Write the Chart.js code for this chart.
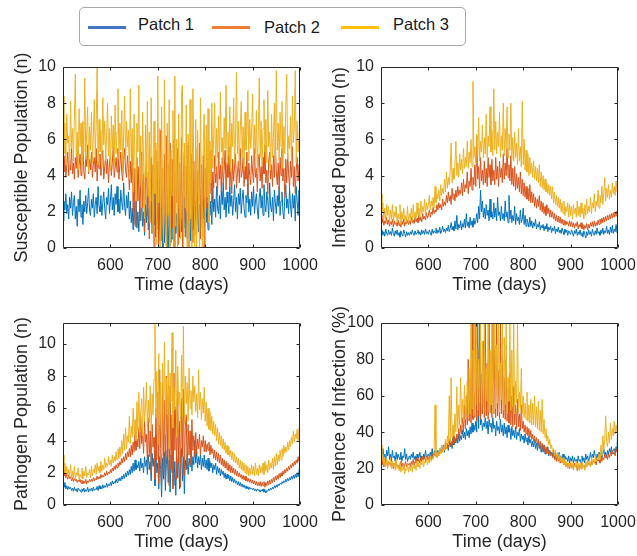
<!DOCTYPE html>
<html>
<head>
<meta charset="utf-8">
<script src="https://cdn.jsdelivr.net/npm/chart.js@4.4.1/dist/chart.umd.min.js"></script>
<style>
  html, body { margin: 0; padding: 0; background: #fff; overflow: hidden; }
  body { width: 637px; height: 556px; position: relative; font-family: "Liberation Sans", Arial, Helvetica, sans-serif; }
  .panel { position: absolute; }
  .legend {
    position: absolute; left: 79px; top: 7px; width: 385px; height: 37px;
    border: 1.5px solid #a8a8a8; border-radius: 5px; background: #fff;
  }
  .legend .swatch { position: absolute; top: 18px; width: 38px; height: 3px; }
  .legend .label { position: absolute; top: 8px; font-size: 16.5px; color: #1a1a1a; white-space: nowrap; }
</style>
</head>
<body>

<div class="legend">
  <div class="swatch" style="left:8px;background:#4472c4"></div>
  <div class="label" style="left:58px;top:7px">Patch 1</div>
  <div class="swatch" style="left:132px;background:#ed7d31"></div>
  <div class="label" style="left:184px;top:10px">Patch 2</div>
  <div class="swatch" style="left:261px;background:#ffc000"></div>
  <div class="label" style="left:313px;top:7px">Patch 3</div>
</div>

<div class="panel" style="left:0;top:50px"><canvas id="susceptible" width="318" height="250"></canvas></div>
<div class="panel" style="left:318px;top:50px"><canvas id="infected" width="318" height="250"></canvas></div>
<div class="panel" style="left:0;top:306px"><canvas id="pathogen" width="318" height="251"></canvas></div>
<div class="panel" style="left:318px;top:306px"><canvas id="prevalence" width="318" height="251"></canvas></div>

<script>
// sampled every 2 days
const days = [
  500, 502, 504, 506, 508, 510, 512, 514, 516, 518,
  520, 522, 524, 526, 528, 530, 532, 534, 536, 538,
  540, 542, 544, 546, 548, 550, 552, 554, 556, 558,
  560, 562, 564, 566, 568, 570, 572, 574, 576, 578,
  580, 582, 584, 586, 588, 590, 592, 594, 596, 598,
  600, 602, 604, 606, 608, 610, 612, 614, 616, 618,
  620, 622, 624, 626, 628, 630, 632, 634, 636, 638,
  640, 642, 644, 646, 648, 650, 652, 654, 656, 658,
  660, 662, 664, 666, 668, 670, 672, 674, 676, 678,
  680, 682, 684, 686, 688, 690, 692, 694, 696, 698,
  700, 702, 704, 706, 708, 710, 712, 714, 716, 718,
  720, 722, 724, 726, 728, 730, 732, 734, 736, 738,
  740, 742, 744, 746, 748, 750, 752, 754, 756, 758,
  760, 762, 764, 766, 768, 770, 772, 774, 776, 778,
  780, 782, 784, 786, 788, 790, 792, 794, 796, 798,
  800, 802, 804, 806, 808, 810, 812, 814, 816, 818,
  820, 822, 824, 826, 828, 830, 832, 834, 836, 838,
  840, 842, 844, 846, 848, 850, 852, 854, 856, 858,
  860, 862, 864, 866, 868, 870, 872, 874, 876, 878,
  880, 882, 884, 886, 888, 890, 892, 894, 896, 898,
  900, 902, 904, 906, 908, 910, 912, 914, 916, 918,
  920, 922, 924, 926, 928, 930, 932, 934, 936, 938,
  940, 942, 944, 946, 948, 950, 952, 954, 956, 958,
  960, 962, 964, 966, 968, 970, 972, 974, 976, 978,
  980, 982, 984, 986, 988, 990, 992, 994, 996, 998,
  1000
];

const patchNames = ["Patch 1", "Patch 2", "Patch 3"];
const patchColors = ["#0072bd", "#d95319", "#edb120"];

// Susceptible population (n)
const susceptible1 = [
  1.5, 2.6, 2.1, 3.0, 1.9, 2.4, 1.6, 2.8, 2.2, 3.1,
  1.8, 2.5, 2.9, 1.6, 2.3, 1.2, 2.7, 2.0, 3.2, 1.7,
  2.4, 1.3, 2.6, 2.0, 2.9, 1.9, 2.5, 3.3, 2.1, 1.8,
  2.7, 2.2, 3.0, 1.7, 2.4, 2.8, 1.9, 3.4, 2.3, 2.0,
  2.9, 1.8, 2.5, 3.1, 2.2, 1.6, 2.8, 2.4, 3.3, 1.9,
  2.6, 3.5, 2.1, 2.8, 1.8, 3.0, 2.4, 3.4, 2.0, 2.7,
  1.9, 3.2, 2.5, 2.1, 3.6, 2.3, 1.8, 2.9, 2.2, 3.1,
  1.6, 2.6, 1.4, 2.2, 1.0, 2.5, 1.3, 2.8, 1.1, 2.0,
  0.9, 2.3, 1.5, 2.7, 1.2, 2.0, 0.7, 2.4, 1.4, 2.9,
  1.0, 2.2, 1.6, 2.6, 0.8, 2.1, 1.3, 3.1, 0.6, 2.5,
  1.8, 0.4, 2.6, 1.0, 2.2, 0.0, 1.9, 0.3, 2.4, 0.2,
  1.5, 0.0, 2.0, 0.1, 2.3, 0.5, 1.7, 0.0, 2.5, 0.8,
  1.9, 0.2, 2.2, 0.6, 2.6, 0.9, 1.6, 0.3, 2.8, 1.1,
  2.0, 0.5, 2.7, 1.2, 1.8, 0.4, 2.9, 1.0, 2.3, 0.7,
  2.6, 1.3, 3.0, 0.9, 2.4, 1.5, 3.2, 1.1, 2.7, 1.6,
  2.9, 1.4, 2.5, 1.0, 3.1, 1.8, 2.6, 1.3, 3.3, 2.0,
  2.7, 1.7, 3.4, 2.2, 1.9, 2.9, 1.6, 3.2, 2.4, 3.6,
  2.1, 2.8, 1.7, 3.1, 2.5, 1.9, 3.4, 2.3, 2.9, 1.8,
  2.6, 3.5, 2.0, 2.8, 1.6, 3.0, 2.4, 3.3, 1.9, 2.7,
  3.2, 2.2, 1.7, 2.9, 2.5, 3.6, 2.0, 2.7, 1.8, 3.1,
  2.3, 3.4, 1.9, 2.6, 3.0, 2.1, 1.6, 2.8, 3.3, 2.2,
  2.9, 1.8, 3.5, 2.4, 2.0, 3.1, 2.6, 1.7, 3.6, 2.3,
  2.0, 2.8, 1.5, 3.2, 2.5, 1.9, 2.9, 2.3, 3.4, 1.8,
  2.6, 3.1, 2.0, 1.6, 2.8, 3.5, 2.2, 2.7, 1.9, 3.3,
  2.4, 1.7, 3.0, 2.2, 2.9, 1.5, 3.4, 2.6, 1.8, 3.2,
  0.8
];
const susceptible2 = [
  4.9, 4.2, 5.1, 3.9, 4.6, 5.3, 4.0, 4.8, 4.3, 5.5,
  4.1, 4.7, 3.8, 5.0, 4.4, 5.4, 3.9, 4.6, 5.2, 4.0,
  4.8, 5.6, 4.2, 3.8, 5.1, 4.5, 5.7, 4.1, 4.9, 4.3,
  5.3, 3.9, 4.6, 5.0, 4.2, 5.5, 3.7, 4.8, 4.4, 5.2,
  4.0, 4.7, 5.4, 3.8, 4.5, 5.1, 4.1, 4.9, 3.6, 4.6,
  5.2, 4.0, 4.7, 5.6, 3.9, 4.4, 5.0, 4.2, 5.5, 3.8,
  4.6, 5.3, 4.1, 3.7, 4.9, 5.5, 4.3, 3.9, 5.1, 4.4,
  3.2, 4.8, 3.6, 5.2, 2.0, 4.4, 1.2, 3.9, 5.0, 2.6,
  4.5, 1.5, 3.8, 5.3, 2.2, 4.1, 0.9, 3.6, 4.8, 1.8,
  4.2, 0.5, 3.5, 5.0, 1.3, 4.6, 0.0, 3.2, 5.4, 1.0,
  4.8, 0.0, 3.9, 6.5, 0.4, 4.4, 0.0, 5.2, 1.5, 6.2,
  0.0, 4.6, 2.0, 5.8, 0.3, 4.9, 1.1, 6.0, 0.0, 4.2,
  2.5, 5.5, 0.2, 4.7, 1.8, 6.1, 0.0, 3.9, 5.3, 0.6,
  4.5, 1.4, 5.7, 0.0, 4.1, 2.3, 5.2, 0.3, 4.8, 1.6,
  5.5, 0.8, 4.3, 2.6, 5.8, 0.5, 4.6, 1.9, 5.1, 0.0,
  4.4, 2.2, 5.0, 1.5, 4.7, 3.0, 5.4, 2.5, 4.2, 3.3,
  5.1, 3.6, 4.5, 2.9, 5.3, 3.8, 4.6, 3.1, 5.0, 3.5,
  4.3, 5.4, 3.2, 4.7, 3.9, 5.6, 3.4, 4.4, 3.0, 4.9,
  3.7, 4.6, 5.2, 3.3, 4.1, 4.8, 3.6, 5.5, 3.9, 4.2,
  5.0, 3.4, 4.5, 3.8, 5.3, 2.9, 4.7, 4.0, 3.5, 5.1,
  4.2, 3.6, 5.5, 3.9, 4.4, 3.1, 4.9, 5.2, 3.7, 4.5,
  3.3, 5.0, 4.1, 5.7, 3.6, 4.3, 3.0, 4.8, 5.3, 3.8,
  4.6, 3.4, 5.1, 3.9, 5.8, 4.2, 3.5, 4.7, 3.2, 5.0,
  4.0, 5.5, 3.7, 4.4, 2.8, 4.9, 3.6, 5.2, 4.1, 3.3,
  4.8, 3.9, 5.6, 3.4, 4.5, 3.0, 4.3, 5.0, 3.7, 4.6,
  4.4
];
const susceptible3 = [
  8.4, 5.2, 6.9, 4.6, 7.4, 5.8, 6.2, 4.4, 8.1, 5.5,
  6.6, 4.8, 7.2, 9.6, 5.1, 6.4, 4.3, 7.7, 5.6, 6.9,
  4.5, 7.0, 5.3, 9.4, 4.9, 6.3, 7.8, 4.2, 6.7, 5.4,
  7.5, 4.7, 6.1, 8.2, 5.0, 6.8, 10.0, 4.6, 7.1, 5.3,
  6.5, 4.4, 8.3, 5.7, 7.0, 4.8, 6.2, 8.0, 5.1, 6.6,
  4.3, 7.3, 5.5, 6.8, 4.6, 7.9, 5.2, 6.4, 8.8, 4.9,
  6.9, 5.4, 7.6, 4.2, 6.3, 8.4, 4.8, 7.0, 5.6, 6.5,
  3.8, 8.8, 5.0, 6.6, 3.1, 7.4, 4.4, 2.6, 6.9, 5.3,
  9.0, 3.4, 6.2, 2.2, 7.5, 4.8, 1.6, 6.8, 3.9, 8.1,
  2.8, 6.4, 1.4, 8.3, 4.2, 0.8, 7.0, 3.0, 5.8, 0.2,
  9.5, 2.5, 6.6, 0.0, 7.8, 3.4, 0.3, 9.3, 4.6, 0.0,
  6.9, 1.8, 8.2, 0.0, 5.4, 2.9, 7.6, 0.0, 9.5, 1.2,
  6.0, 0.0, 7.4, 3.5, 0.5, 8.6, 9.0, 0.0, 5.8, 2.2,
  7.9, 0.0, 6.3, 0.0, 8.2, 1.6, 0.0, 8.8, 4.0, 0.0,
  7.1, 0.0, 6.5, 2.7, 0.0, 8.3, 3.3, 0.0, 5.9, 7.4,
  0.2, 6.8, 2.8, 7.7, 1.4, 5.9, 3.6, 8.0, 4.4, 6.2,
  8.0, 4.1, 6.6, 5.0, 7.3, 4.5, 8.6, 5.3, 6.1, 4.3,
  7.2, 5.5, 9.0, 4.6, 6.4, 5.1, 7.8, 4.2, 6.9, 5.6,
  8.3, 4.7, 6.0, 9.7, 5.2, 7.0, 4.4, 6.5, 8.1, 5.0,
  6.7, 4.3, 7.5, 5.4, 6.2, 8.7, 4.8, 7.1, 5.5, 6.4,
  8.5, 4.6, 6.8, 5.2, 7.6, 4.1, 6.3, 9.4, 5.0, 7.0,
  4.5, 6.6, 8.2, 5.3, 7.1, 4.7, 8.7, 5.6, 6.4, 4.3,
  7.4, 5.0, 6.1, 8.0, 4.6, 9.8, 5.4, 6.9, 4.8, 7.5,
  5.6, 8.1, 4.4, 6.7, 5.2, 7.7, 9.6, 4.9, 6.2, 5.5,
  7.3, 4.5, 8.4, 5.8, 6.6, 9.8, 4.7, 7.0, 5.3, 6.1,
  7.4
];

// Infected population (n)
const infected1 = [
  0.8, 1.0, 0.7, 0.9, 0.65, 1.05, 0.8, 0.7, 1.0, 0.75,
  0.9, 0.7, 1.1, 0.8, 0.65, 0.95, 0.75, 1.0, 0.7, 0.85,
  0.6, 0.95, 0.75, 0.65, 1.0, 0.8, 0.6, 0.9, 0.7, 0.85,
  0.7, 0.9, 0.75, 1.0, 0.8, 0.7, 0.95, 0.75, 0.85, 1.0,
  0.75, 0.9, 0.7, 1.0, 0.8, 0.95, 0.75, 1.05, 0.8, 0.9,
  0.75, 1.0, 0.85, 0.7, 1.05, 0.8, 0.95, 0.85, 1.1, 0.8,
  1.0, 0.85, 1.15, 0.8, 0.95, 1.2, 0.9, 1.05, 0.85, 1.1,
  0.95, 1.25, 0.9, 1.1, 1.4, 1.0, 1.2, 0.95, 1.5, 1.05,
  1.8, 1.0, 1.3, 1.1, 1.5, 1.0, 1.35, 1.15, 1.6, 1.1,
  1.9, 1.2, 1.45, 1.1, 1.7, 1.25, 1.5, 1.15, 1.65, 1.3,
  1.5, 1.9, 1.4, 2.3, 1.6, 3.2, 2.0, 2.6, 1.7, 2.2,
  1.6, 2.4, 1.8, 2.1, 1.5, 2.7, 1.7, 2.0, 1.6, 2.5,
  1.7, 2.2, 1.5, 2.8, 1.8, 2.0, 1.5, 2.3, 1.6, 1.9,
  1.5, 2.6, 1.7, 2.0, 1.4, 2.9, 1.6, 2.1, 1.4, 1.8,
  1.5, 2.3, 1.3, 1.9, 1.5, 1.7, 1.3, 2.1, 1.4, 1.6,
  2.2, 1.3, 1.8, 1.2, 1.6, 1.4, 1.15, 1.7, 1.2, 1.5,
  1.1, 1.4, 1.2, 1.6, 1.05, 1.3, 1.15, 1.45, 1.0, 1.25,
  1.1, 1.3, 0.95, 1.2, 1.05, 1.35, 0.9, 1.15, 1.0, 1.2,
  0.85, 1.1, 0.95, 1.2, 0.8, 1.05, 0.9, 1.15, 0.85, 1.0,
  0.8, 1.1, 0.9, 0.75, 1.05, 0.85, 1.0, 0.7, 0.95, 0.85,
  0.75, 1.0, 0.85, 0.65, 0.95, 0.8, 1.05, 0.7, 0.9, 0.75,
  1.0, 0.7, 0.85, 0.6, 0.95, 0.75, 0.55, 0.9, 0.7, 1.0,
  0.75, 0.9, 0.65, 1.05, 0.8, 0.7, 0.95, 0.75, 1.1, 0.8,
  0.9, 0.7, 1.0, 0.8, 1.1, 0.75, 0.95, 0.85, 1.2, 0.8,
  1.0, 0.75, 1.15, 0.85, 1.25, 0.8, 1.05, 0.9, 1.3, 0.85,
  1.5
];
const infected2 = [
  1.8, 1.4, 1.6, 1.25, 1.5, 1.35, 1.7, 1.3, 1.55, 1.2,
  1.45, 1.3, 1.6, 1.15, 1.5, 1.3, 1.4, 1.2, 1.55, 1.25,
  1.4, 1.15, 1.5, 1.3, 1.6, 1.2, 1.45, 1.35, 1.55, 1.3,
  1.5, 1.3, 1.7, 1.4, 1.55, 1.35, 1.75, 1.45, 1.65, 1.4,
  1.8, 1.5, 1.7, 1.45, 1.9, 1.6, 1.75, 1.55, 1.95, 1.65,
  1.8, 2.1, 1.7, 2.0, 1.85, 2.25, 1.9, 2.1, 2.0, 2.4,
  2.1, 2.5, 2.2, 2.4, 2.1, 2.7, 2.3, 2.55, 2.35, 2.9,
  2.5, 3.1, 2.6, 2.9, 2.4, 3.3, 2.7, 3.0, 2.6, 3.2,
  2.8, 3.4, 2.9, 3.2, 3.0, 3.6, 2.9, 3.8, 3.1, 3.5,
  3.3, 4.2, 3.0, 3.7, 3.4, 4.4, 3.2, 3.9, 3.5, 4.6,
  3.4, 6.2, 3.8, 4.5, 3.3, 5.0, 3.7, 4.3, 3.5, 4.8,
  3.6, 4.4, 3.4, 5.0, 3.9, 4.6, 3.5, 4.9, 3.7, 4.3,
  3.5, 5.0, 3.8, 4.5, 3.4, 4.8, 3.9, 4.4, 3.6, 5.2,
  3.8, 4.7, 4.0, 5.5, 3.9, 4.6, 3.7, 5.1, 3.5, 4.4,
  3.4, 4.5, 3.2, 4.1, 3.3, 3.9, 3.1, 4.2, 3.0, 3.8,
  2.9, 3.6, 2.8, 3.4, 2.7, 3.3, 2.6, 3.5, 2.5, 3.1,
  2.5, 3.0, 2.3, 2.8, 2.2, 2.7, 2.3, 2.9, 2.1, 2.6,
  2.0, 2.5, 1.9, 2.3, 1.8, 2.4, 1.9, 2.2, 1.7, 2.1,
  1.7, 2.0, 1.6, 1.9, 1.5, 1.8, 1.45, 1.75, 1.4, 1.7,
  1.35, 1.6, 1.3, 1.55, 1.25, 1.5, 1.3, 1.45, 1.2, 1.5,
  1.2, 1.45, 1.15, 1.4, 1.1, 1.35, 1.2, 1.45, 1.05, 1.3,
  1.15, 1.4, 1.05, 1.3, 1.0, 1.25, 1.1, 1.35, 1.0, 1.3,
  1.1, 1.4, 1.2, 1.45, 1.15, 1.5, 1.2, 1.4, 1.25, 1.55,
  1.3, 1.6, 1.35, 1.65, 1.4, 1.7, 1.45, 1.75, 1.5, 1.8,
  1.55, 1.85, 1.6, 1.9, 1.65, 1.95, 1.7, 2.0, 1.75, 2.05,
  1.9
];
const infected3 = [
  3.0, 2.0, 2.5, 1.6, 2.2, 1.5, 2.4, 1.8, 2.3, 1.4,
  2.1, 1.6, 2.4, 1.5, 2.0, 1.7, 2.3, 1.4, 1.9, 1.6,
  2.4, 1.3, 2.0, 1.6, 2.2, 1.4, 1.8, 1.5, 2.3, 1.4,
  1.9, 1.6, 2.2, 1.5, 2.4, 1.7, 2.0, 1.6, 2.5, 1.8,
  2.2, 1.7, 2.6, 1.9, 2.3, 2.0, 2.7, 1.8, 2.5, 2.1,
  2.4, 2.9, 2.1, 2.6, 2.3, 2.8, 2.2, 3.4, 2.5, 3.0,
  2.7, 3.2, 2.6, 3.5, 2.9, 3.3, 3.0, 3.8, 3.1, 4.2,
  3.3, 3.9, 3.5, 4.3, 5.8, 3.6, 4.4, 3.8, 4.6, 5.9,
  4.0, 4.7, 3.9, 5.2, 4.3, 4.9, 4.1, 5.5, 4.4, 5.0,
  4.5, 5.9, 4.4, 5.3, 4.7, 6.0, 4.5, 9.2, 5.0, 5.6,
  4.7, 6.3, 5.1, 7.2, 4.8, 5.9, 5.3, 6.8, 5.0, 6.1,
  5.2, 7.4, 5.0, 6.2, 5.6, 7.8, 5.3, 6.5, 5.1, 8.8,
  5.4, 7.0, 5.2, 6.4, 5.6, 7.5, 5.0, 6.2, 5.4, 8.0,
  5.1, 6.6, 5.5, 7.8, 5.0, 6.3, 5.4, 8.0, 4.9, 6.1,
  4.8, 6.4, 5.0, 5.8, 4.6, 6.6, 4.8, 5.6, 4.5, 8.1,
  4.6, 6.0, 4.3, 5.4, 4.2, 5.2, 4.0, 5.0, 4.1, 4.7,
  3.9, 4.8, 3.8, 4.5, 3.7, 4.4, 3.6, 4.6, 3.4, 4.2,
  3.3, 4.0, 3.2, 3.8, 3.1, 3.6, 3.0, 3.5, 2.9, 3.4,
  2.7, 3.4, 2.5, 3.1, 2.4, 2.9, 2.3, 2.8, 2.2, 2.7,
  2.0, 2.5, 1.9, 2.6, 1.8, 2.3, 2.0, 2.5, 1.7, 2.4,
  1.8, 2.3, 1.6, 2.4, 1.9, 2.2, 1.7, 2.6, 1.8, 2.3,
  1.7, 2.5, 1.9, 2.2, 1.6, 2.4, 1.8, 2.7, 1.9, 2.3,
  2.0, 2.8, 1.9, 2.5, 2.2, 3.0, 2.0, 2.6, 2.3, 3.2,
  2.2, 2.9, 2.5, 3.4, 2.4, 3.1, 3.9, 2.6, 3.3, 2.8,
  3.5, 2.7, 3.2, 2.8, 3.6, 3.0, 3.4, 2.9, 3.7, 3.1,
  3.7
];

// Pathogen population (n)
const pathogen1 = [
  1.3, 1.1, 1.4, 1.0, 1.2, 0.95, 1.15, 1.0, 1.1, 0.9,
  1.05, 0.85, 1.1, 0.9, 1.0, 0.8, 1.05, 0.9, 0.95, 0.8,
  1.0, 0.85, 1.05, 0.8, 0.95, 0.85, 1.1, 0.8, 1.0, 0.9,
  1.05, 0.85, 1.1, 0.9, 1.0, 0.95, 1.15, 0.9, 1.2, 1.0,
  1.15, 1.0, 1.25, 1.05, 1.2, 1.1, 1.35, 1.1, 1.3, 1.2,
  1.4, 1.2, 1.5, 1.3, 1.45, 1.35, 1.6, 1.4, 1.65, 1.5,
  1.7, 1.5, 1.8, 1.6, 1.9, 1.65, 2.0, 1.75, 2.1, 1.85,
  2.2, 1.9, 2.4, 2.0, 2.6, 2.1, 2.8, 2.2, 2.5, 2.3,
  2.7, 2.1, 2.9, 2.3, 2.6, 2.0, 3.0, 2.4, 2.8, 1.9,
  3.1, 2.2, 2.7, 1.5, 3.2, 2.4, 2.9, 1.2, 3.4, 2.0,
  2.6, 1.0, 3.0, 2.2, 0.5, 2.9, 1.6, 3.3, 0.9, 2.5,
  3.4, 1.4, 2.8, 0.8, 3.1, 2.0, 3.6, 1.2, 2.7, 0.6,
  2.9, 1.7, 3.3, 1.0, 2.6, 3.5, 1.5, 3.0, 0.7, 2.8,
  2.2, 3.2, 1.9, 2.9, 2.4, 3.4, 2.1, 3.0, 2.5, 4.0,
  2.6, 3.3, 2.3, 3.0, 2.5, 3.2, 2.2, 2.9, 2.4, 3.1,
  2.3, 2.8, 2.2, 2.9, 2.1, 2.7, 2.3, 2.6, 2.0, 2.5,
  2.2, 2.6, 1.9, 2.4, 2.0, 2.3, 1.8, 2.2, 1.9, 2.1,
  1.7, 2.0, 1.6, 1.9, 1.65, 1.85, 1.5, 1.8, 1.45, 1.7,
  1.4, 1.6, 1.35, 1.5, 1.25, 1.45, 1.2, 1.4, 1.15, 1.3,
  1.1, 1.25, 1.05, 1.2, 1.0, 1.15, 0.95, 1.1, 1.0, 1.05,
  0.95, 1.05, 0.9, 1.0, 0.85, 1.0, 0.9, 0.95, 0.8, 0.95,
  0.85, 1.0, 0.8, 0.95, 0.75, 0.9, 0.85, 1.0, 0.9, 1.05,
  0.95, 1.1, 1.0, 1.2, 1.05, 1.25, 1.1, 1.3, 1.2, 1.35,
  1.3, 1.45, 1.35, 1.5, 1.4, 1.6, 1.45, 1.65, 1.5, 1.7,
  1.55, 1.8, 1.6, 1.85, 1.65, 1.9, 1.7, 2.0, 1.75, 2.1,
  2.7
];
const pathogen2 = [
  2.2, 1.8, 2.0, 1.7, 1.95, 1.6, 1.85, 1.65, 1.75, 1.5,
  1.7, 1.45, 1.65, 1.5, 1.6, 1.4, 1.55, 1.45, 1.6, 1.35,
  1.55, 1.3, 1.5, 1.35, 1.6, 1.3, 1.5, 1.4, 1.6, 1.45,
  1.6, 1.45, 1.7, 1.5, 1.65, 1.55, 1.8, 1.6, 1.75, 1.65,
  1.9, 1.7, 1.85, 1.75, 2.0, 1.8, 2.1, 1.85, 2.05, 1.95,
  2.2, 2.0, 2.3, 2.1, 2.4, 2.2, 2.5, 2.3, 2.6, 2.4,
  2.7, 2.5, 2.9, 2.6, 3.0, 2.7, 3.2, 2.8, 3.3, 3.0,
  3.5, 3.0, 3.7, 3.1, 3.9, 3.3, 4.6, 3.4, 4.1, 3.6,
  4.8, 3.5, 5.5, 3.8, 4.5, 3.2, 5.2, 3.9, 4.4, 2.6,
  5.4, 3.0, 4.6, 2.0, 5.0, 3.6, 4.2, 1.6, 6.0, 2.8,
  7.0, 1.3, 8.4, 3.5, 1.0, 7.6, 2.4, 6.5, 1.5, 8.0,
  3.0, 6.8, 1.2, 7.4, 2.2, 5.6, 1.0, 8.2, 3.4, 6.1,
  1.6, 7.0, 2.6, 5.2, 1.1, 6.6, 3.0, 7.2, 1.8, 4.8,
  5.6, 2.2, 5.0, 3.1, 4.6, 2.5, 5.3, 3.4, 4.3, 3.0,
  4.5, 3.2, 4.1, 3.5, 4.4, 3.1, 4.0, 3.6, 4.3, 3.3,
  4.0, 3.3, 3.8, 3.4, 3.9, 3.1, 3.7, 3.2, 3.5, 2.9,
  3.4, 2.8, 3.3, 2.7, 3.2, 2.6, 3.1, 2.5, 2.9, 2.4,
  2.8, 2.3, 2.7, 2.2, 2.6, 2.1, 2.5, 2.0, 2.4, 2.0,
  2.3, 1.9, 2.2, 1.8, 2.1, 1.75, 2.0, 1.7, 1.9, 1.6,
  1.85, 1.55, 1.8, 1.5, 1.7, 1.45, 1.65, 1.4, 1.6, 1.35,
  1.55, 1.3, 1.5, 1.25, 1.45, 1.2, 1.4, 1.2, 1.45, 1.15,
  1.4, 1.2, 1.45, 1.1, 1.4, 1.2, 1.5, 1.25, 1.55, 1.3,
  1.6, 1.4, 1.7, 1.45, 1.8, 1.55, 1.85, 1.6, 1.95, 1.7,
  2.0, 1.8, 2.1, 1.9, 2.2, 2.0, 2.3, 2.1, 2.4, 2.2,
  2.5, 2.3, 2.6, 2.4, 2.7, 2.5, 2.8, 2.6, 3.0, 2.7,
  3.1
];
const pathogen3 = [
  3.1, 2.0, 2.6, 1.9, 2.4, 1.7, 2.2, 1.8, 2.5, 1.6,
  2.1, 1.7, 2.4, 1.6, 2.0, 1.8, 2.3, 1.6, 1.9, 1.7,
  2.3, 1.6, 2.1, 1.8, 2.4, 1.7, 2.0, 1.9, 2.2, 1.7,
  2.4, 1.8, 2.2, 2.0, 2.5, 1.9, 2.6, 2.1, 2.4, 2.0,
  2.7, 2.1, 2.5, 2.2, 2.9, 2.3, 2.6, 2.4, 3.0, 2.5,
  2.8, 2.4, 3.1, 2.6, 3.0, 2.7, 3.3, 2.8, 3.5, 2.9,
  3.6, 3.0, 4.0, 3.2, 4.4, 3.4, 4.8, 3.5, 4.3, 3.9,
  5.5, 3.8, 4.9, 4.2, 6.0, 4.4, 5.3, 4.0, 6.4, 4.6,
  7.0, 4.5, 5.8, 6.6, 4.3, 7.3, 5.2, 6.1, 7.6, 4.8,
  6.5, 5.1, 7.4, 4.6, 6.9, 5.6, 7.8, 11.2, 5.4, 8.3,
  3.8, 9.4, 5.0, 7.6, 3.2, 8.8, 6.0, 10.1, 4.4, 7.9,
  5.6, 9.0, 3.5, 8.2, 6.4, 10.7, 4.8, 7.3, 5.9, 9.6,
  4.2, 8.6, 6.2, 7.0, 4.5, 9.3, 5.5, 11.1, 5.0, 8.0,
  6.3, 7.6, 5.2, 8.5, 6.0, 7.1, 5.6, 8.0, 6.4, 7.4,
  5.8, 6.9, 5.4, 8.4, 5.9, 7.0, 5.3, 6.6, 5.7, 7.3,
  5.2, 6.4, 4.9, 6.0, 4.7, 5.8, 4.6, 5.5, 4.4, 5.2,
  4.3, 5.0, 4.0, 4.8, 3.8, 4.5, 3.7, 4.3, 3.5, 4.1,
  3.4, 3.9, 3.2, 3.7, 3.1, 3.6, 3.0, 3.4, 2.8, 3.3,
  2.7, 3.2, 2.6, 3.0, 2.5, 2.9, 2.3, 2.8, 2.2, 2.7,
  2.1, 2.6, 2.0, 2.5, 1.9, 2.4, 1.8, 2.3, 1.9, 2.5,
  1.9, 2.4, 1.8, 2.6, 1.9, 2.3, 1.8, 2.5, 2.0, 2.4,
  2.0, 2.6, 1.9, 2.7, 2.1, 2.5, 2.0, 2.8, 2.2, 2.6,
  2.3, 2.9, 2.2, 3.0, 2.4, 3.2, 2.5, 3.1, 2.7, 3.4,
  2.8, 3.5, 3.0, 3.7, 3.2, 3.6, 3.3, 3.9, 3.4, 4.0,
  3.6, 4.2, 3.8, 4.6, 3.9, 4.4, 4.1, 4.7, 4.0, 4.8,
  4.9
];

// Prevalence of infection (%)
const prevalence1 = [
  29, 25, 31, 26, 28, 24, 30, 27, 32, 25,
  28, 24, 30, 26, 27, 24, 29, 25, 28, 26,
  25, 29, 24, 27, 26, 31, 25, 28, 24, 26,
  27, 25, 28, 26, 29, 25, 27, 24, 28, 26,
  26, 29, 25, 27, 24, 28, 26, 30, 25, 27,
  28, 26, 29, 27, 31, 26, 28, 30, 27, 29,
  30, 28, 31, 29, 33, 30, 32, 29, 34, 31,
  33, 30, 35, 32, 34, 31, 37, 33, 36, 34,
  37, 34, 39, 35, 38, 36, 41, 37, 40, 36,
  42, 38, 41, 37, 43, 39, 45, 40, 44, 41,
  46, 40, 100, 42, 100, 44, 47, 41, 45, 43,
  48, 42, 46, 39, 47, 43, 45, 40, 48, 42,
  44, 38, 46, 41, 43, 39, 47, 40, 44, 38,
  45, 39, 43, 37, 44, 40, 42, 36, 43, 38,
  41, 37, 43, 36, 40, 38, 42, 35, 39, 36,
  38, 34, 39, 35, 37, 33, 38, 34, 36, 32,
  35, 32, 36, 31, 34, 30, 35, 31, 33, 29,
  32, 29, 33, 28, 31, 29, 32, 27, 30, 28,
  29, 27, 30, 26, 29, 25, 28, 26, 29, 25,
  27, 25, 28, 24, 27, 25, 26, 24, 27, 23,
  26, 24, 27, 23, 26, 24, 25, 23, 27, 24,
  25, 23, 27, 24, 26, 23, 28, 25, 27, 24,
  26, 29, 25, 28, 26, 30, 27, 25, 28, 26,
  29, 27, 30, 26, 28, 31, 27, 29, 26, 30,
  28, 31, 29, 32, 28, 30, 31, 29, 32, 30,
  50
];
const prevalence2 = [
  25, 22, 26, 21, 24, 23, 25, 21, 24, 22,
  23, 21, 24, 20, 23, 22, 24, 21, 22, 20,
  22, 24, 21, 23, 20, 22, 24, 21, 23, 22,
  23, 21, 24, 22, 25, 22, 24, 23, 26, 24,
  25, 23, 26, 24, 27, 25, 26, 24, 27, 25,
  26, 24, 27, 25, 28, 26, 29, 27, 28, 26,
  29, 27, 30, 28, 31, 29, 33, 30, 32, 31,
  34, 31, 36, 33, 35, 32, 38, 34, 37, 35,
  39, 36, 42, 37, 44, 39, 48, 40, 55, 42,
  60, 44, 80, 46, 70, 45, 100, 47, 62, 48,
  100, 46, 85, 49, 100, 47, 72, 50, 90, 48,
  100, 49, 78, 47, 100, 51, 66, 48, 100, 50,
  88, 48, 100, 49, 74, 47, 100, 50, 82, 48,
  70, 47, 80, 46, 64, 45, 72, 44, 60, 43,
  65, 44, 55, 42, 58, 43, 50, 41, 55, 42,
  46, 40, 44, 39, 43, 38, 42, 37, 41, 36,
  39, 35, 38, 34, 37, 33, 36, 32, 35, 31,
  34, 30, 33, 29, 32, 28, 31, 28, 30, 27,
  29, 26, 28, 25, 27, 24, 27, 24, 26, 23,
  25, 23, 24, 22, 24, 21, 23, 21, 23, 20,
  23, 21, 22, 20, 23, 21, 22, 19, 22, 20,
  22, 20, 23, 21, 22, 20, 23, 21, 24, 22,
  23, 21, 24, 22, 25, 23, 24, 22, 26, 24,
  25, 23, 27, 24, 26, 25, 28, 26, 27, 25,
  28, 26, 29, 27, 30, 28, 29, 27, 31, 29,
  31
];
const prevalence3 = [
  33, 24, 28, 22, 26, 21, 25, 20, 24, 22,
  26, 20, 24, 21, 23, 19, 25, 20, 22, 19,
  23, 18, 21, 19, 22, 17, 20, 19, 23, 18,
  21, 19, 22, 18, 23, 20, 22, 19, 24, 21,
  23, 20, 24, 22, 25, 21, 24, 23, 26, 22,
  25, 23, 27, 24, 26, 25, 28, 55, 27, 26,
  29, 27, 31, 28, 33, 29, 32, 30, 36, 31,
  38, 33, 60, 35, 70, 37, 44, 38, 50, 40,
  65, 42, 55, 44, 70, 45, 58, 46, 66, 47,
  52, 68, 48, 75, 50, 100, 53, 85, 49, 100,
  55, 100, 52, 80, 56, 100, 50, 90, 54, 100,
  51, 75, 57, 100, 52, 85, 55, 100, 50, 70,
  100, 53, 88, 56, 100, 51, 78, 58, 100, 52,
  92, 55, 100, 50, 70, 57, 100, 52, 85, 54,
  100, 50, 68, 56, 100, 51, 62, 53, 75, 50,
  60, 48, 56, 47, 62, 46, 55, 45, 58, 44,
  56, 44, 60, 43, 54, 42, 57, 41, 52, 40,
  58, 39, 47, 37, 42, 35, 38, 33, 36, 31,
  33, 29, 31, 27, 30, 26, 29, 25, 28, 24,
  27, 23, 26, 22, 25, 21, 24, 20, 23, 21,
  24, 20, 23, 19, 22, 21, 24, 20, 23, 19,
  23, 20, 24, 21, 22, 19, 24, 21, 25, 22,
  24, 21, 26, 22, 25, 23, 27, 24, 26, 25,
  28, 25, 33, 27, 38, 30, 36, 49, 35, 32,
  40, 34, 45, 36, 42, 38, 46, 39, 44, 40,
  47
];

const xTicks = [600, 700, 800, 900, 1000];

const AXIS = "#262626";
const FONT = "'Liberation Sans', Arial, Helvetica, sans-serif";

// MATLAB-style box with inward ticks on all four sides
const axesBox = {
  id: "axesBox",
  afterDatasetsDraw(chart) {
    const { ctx, chartArea: a, scales: { x, y } } = chart;
    const L = Math.round(a.left) + 0.5, R = Math.round(a.right) - 0.5;
    const T = Math.round(a.top) + 0.5, B = Math.round(a.bottom) - 0.5;
    ctx.save();
    ctx.strokeStyle = AXIS;
    ctx.lineWidth = 1;
    ctx.beginPath();
    x.ticks.forEach(t => {
      const px = Math.round(x.getPixelForValue(t.value)) + 0.5;
      ctx.moveTo(px, B); ctx.lineTo(px, B - 3);
      ctx.moveTo(px, T); ctx.lineTo(px, T + 3);
    });
    y.ticks.forEach(t => {
      const py = Math.round(y.getPixelForValue(t.value)) + 0.5;
      ctx.moveTo(L, py); ctx.lineTo(L + 3, py);
      ctx.moveTo(R, py); ctx.lineTo(R - 3, py);
    });
    ctx.rect(L, T, R - L, B - T);
    ctx.stroke();
    ctx.restore();
  }
};

function drawPanel(id, series, yTitle, yMax, yStep) {
  const datasets = series.map((values, i) => ({
    label: patchNames[i],
    data: values.map((v, k) => ({ x: days[k], y: v })),
    borderColor: patchColors[i],
    borderWidth: 1,
    pointRadius: 0,
    tension: 0,
    order: 3 - i
  }));

  new Chart(document.getElementById(id), {
    type: "line",
    data: { datasets },
    options: {
      responsive: false,
      animation: false,
      devicePixelRatio: 1,
      layout: { padding: { top: 17, right: 18, left: 0, bottom: 0 } },
      plugins: { legend: { display: false }, tooltip: { enabled: false } },
      scales: {
        x: {
          type: "linear",
          min: 500,
          max: 1000,
          afterFit: s => { s.height = 52; },
          afterBuildTicks: s => { s.ticks = xTicks.map(v => ({ value: v })); },
          // tick marks are drawn by axesBox; tickLength only spaces the labels
          grid: { display: false, drawTicks: true, tickLength: 8 },
          border: { display: false },
          ticks: {
            color: AXIS,
            padding: 0,
            maxRotation: 0,
            autoSkip: false,
            callback: v => String(v),
            font: { family: FONT, size: 16 }
          },
          title: {
            display: true,
            text: "Time (days)",
            color: AXIS,
            padding: { top: 0, bottom: 4 },
            font: { family: FONT, size: 18 }
          }
        },
        y: {
          min: 0,
          max: yMax,
          afterFit: s => { s.width = 63; },
          grid: { display: false, drawTicks: false },
          border: { display: false },
          ticks: {
            stepSize: yStep,
            includeBounds: false,
            color: AXIS,
            padding: 7,
            font: { family: FONT, size: 16 }
          },
          title: {
            display: true,
            text: yTitle,
            color: AXIS,
            padding: { top: 11, bottom: 0 },
            font: { family: FONT, size: 18 }
          }
        }
      }
    },
    plugins: [axesBox]
  });
}

drawPanel("susceptible", [susceptible1, susceptible2, susceptible3], "Susceptible Population (n)", 10, 2);
drawPanel("infected", [infected1, infected2, infected3], "Infected Population (n)", 10, 2);
drawPanel("pathogen", [pathogen1, pathogen2, pathogen3], "Pathogen Population (n)", 11.3, 2);
drawPanel("prevalence", [prevalence1, prevalence2, prevalence3], "Prevalence of Infection (%)", 100, 20);
</script>
</body>
</html>
